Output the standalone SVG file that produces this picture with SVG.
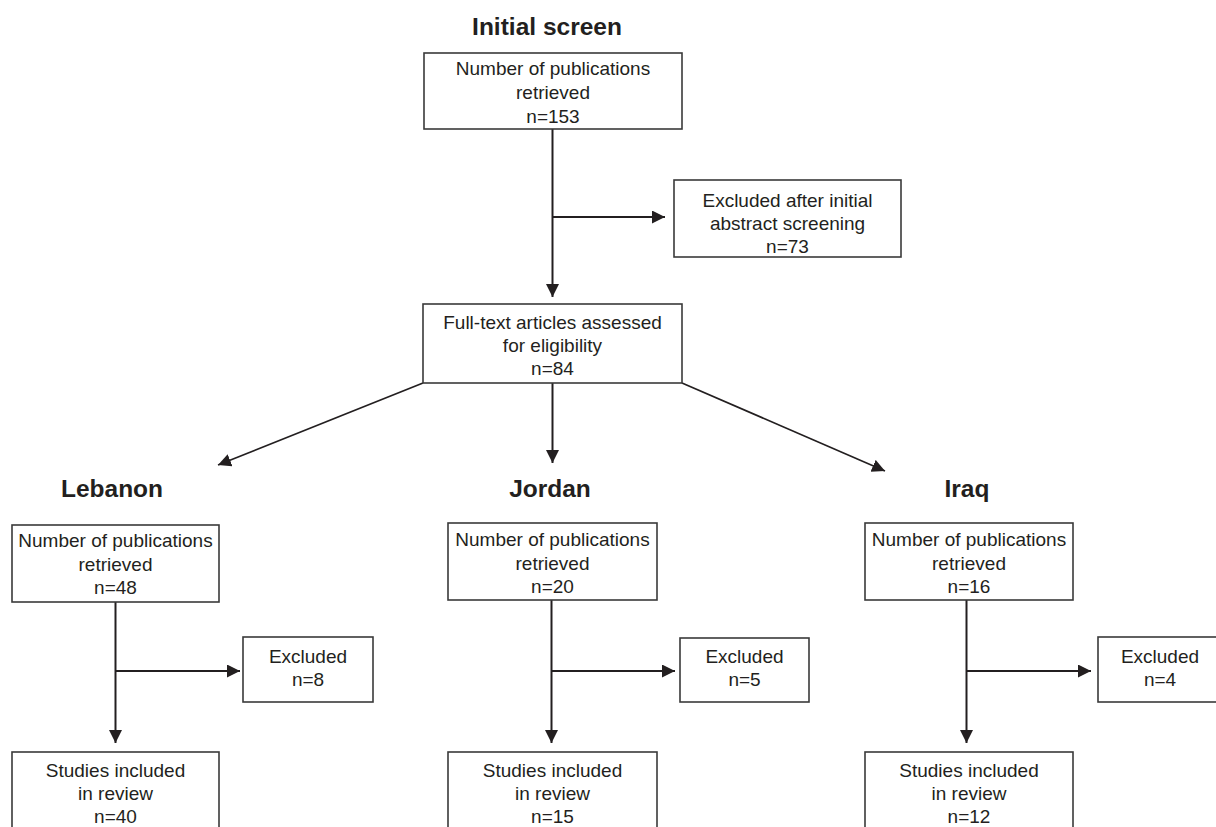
<svg xmlns="http://www.w3.org/2000/svg" width="1216" height="827" viewBox="0 0 1216 827">
<defs>
<style>
.box{fill:#fff;stroke:#3a3a3a;stroke-width:1.6}
.t{font-family:"Liberation Sans",Arial,sans-serif;font-size:19px;fill:#231f20;text-anchor:middle}
.h{font-family:"Liberation Sans",Arial,sans-serif;font-size:24.5px;font-weight:bold;fill:#231f20;text-anchor:middle}
.c{fill:none;stroke:#231f20;stroke-width:2}
.d{fill:none;stroke:#231f20;stroke-width:1.7}
</style>
<marker id="ah" markerUnits="userSpaceOnUse" markerWidth="14" markerHeight="14" refX="13" refY="6.5" orient="auto">
<path d="M0,0 L13,6.5 L0,13 z" fill="#231f20"/>
</marker>
</defs>
<rect width="1216" height="827" fill="#fff"/>
<g id="titles">
<text class="h" x="547" y="35">Initial screen</text>
<text class="h" x="112" y="497">Lebanon</text>
<text class="h" x="550" y="497">Jordan</text>
<text class="h" x="967" y="497">Iraq</text>
</g>
<g id="connectors">
<line class="c" x1="552.5" y1="129" x2="552.5" y2="297" marker-end="url(#ah)"/>
<line class="c" x1="552.5" y1="217" x2="665" y2="217" marker-end="url(#ah)"/>
<line class="c" x1="552.5" y1="383" x2="552.5" y2="463" marker-end="url(#ah)"/>
<line class="d" x1="423" y1="383" x2="218" y2="465" marker-end="url(#ah)"/>
<line class="d" x1="682" y1="383" x2="885" y2="471" marker-end="url(#ah)"/>
<line class="c" x1="115.5" y1="602" x2="115.5" y2="743" marker-end="url(#ah)"/>
<line class="c" x1="115.5" y1="671" x2="240" y2="671" marker-end="url(#ah)"/>
<line class="c" x1="551.5" y1="600" x2="551.5" y2="743" marker-end="url(#ah)"/>
<line class="c" x1="551.5" y1="671" x2="675" y2="671" marker-end="url(#ah)"/>
<line class="c" x1="966.5" y1="600" x2="966.5" y2="743" marker-end="url(#ah)"/>
<line class="c" x1="966.5" y1="671" x2="1091" y2="671" marker-end="url(#ah)"/>
</g>
<g id="n-initial">
<rect class="box" x="424" y="53" width="258" height="76"/>
<text class="t" x="553" y="75">Number of publications</text>
<text class="t" x="553" y="99">retrieved</text>
<text class="t" x="553" y="123">n=153</text>
</g>
<g id="n-excl-initial">
<rect class="box" x="674" y="180" width="227" height="77"/>
<text class="t" x="787.5" y="207">Excluded after initial</text>
<text class="t" x="787.5" y="230">abstract screening</text>
<text class="t" x="787.5" y="253">n=73</text>
</g>
<g id="n-fulltext">
<rect class="box" x="423" y="304" width="259" height="79"/>
<text class="t" x="552.5" y="329">Full-text articles assessed</text>
<text class="t" x="552.5" y="352">for eligibility</text>
<text class="t" x="552.5" y="375">n=84</text>
</g>
<g id="n-leb-ret">
<rect class="box" x="12" y="525" width="207" height="77"/>
<text class="t" x="115.5" y="547">Number of publications</text>
<text class="t" x="115.5" y="571">retrieved</text>
<text class="t" x="115.5" y="594">n=48</text>
</g>
<g id="n-leb-exc">
<rect class="box" x="243" y="637" width="130" height="65"/>
<text class="t" x="308" y="663">Excluded</text>
<text class="t" x="308" y="686">n=8</text>
</g>
<g id="n-leb-inc">
<rect class="box" x="12" y="752" width="207" height="90"/>
<text class="t" x="115.5" y="777">Studies included</text>
<text class="t" x="115.5" y="800">in review</text>
<text class="t" x="115.5" y="823">n=40</text>
</g>
<g id="n-jor-ret">
<rect class="box" x="448" y="523" width="209" height="77"/>
<text class="t" x="552.5" y="546">Number of publications</text>
<text class="t" x="552.5" y="570">retrieved</text>
<text class="t" x="552.5" y="593">n=20</text>
</g>
<g id="n-jor-exc">
<rect class="box" x="680" y="638" width="129" height="64"/>
<text class="t" x="744.5" y="663">Excluded</text>
<text class="t" x="744.5" y="686">n=5</text>
</g>
<g id="n-jor-inc">
<rect class="box" x="448" y="752" width="209" height="90"/>
<text class="t" x="552.5" y="777">Studies included</text>
<text class="t" x="552.5" y="800">in review</text>
<text class="t" x="552.5" y="823">n=15</text>
</g>
<g id="n-irq-ret">
<rect class="box" x="865" y="523" width="208" height="77"/>
<text class="t" x="969" y="546">Number of publications</text>
<text class="t" x="969" y="570">retrieved</text>
<text class="t" x="969" y="593">n=16</text>
</g>
<g id="n-irq-exc">
<rect class="box" x="1098" y="637" width="124" height="65"/>
<text class="t" x="1160" y="663">Excluded</text>
<text class="t" x="1160" y="686">n=4</text>
</g>
<g id="n-irq-inc">
<rect class="box" x="865" y="752" width="208" height="90"/>
<text class="t" x="969" y="777">Studies included</text>
<text class="t" x="969" y="800">in review</text>
<text class="t" x="969" y="823">n=12</text>
</g>
</svg>
